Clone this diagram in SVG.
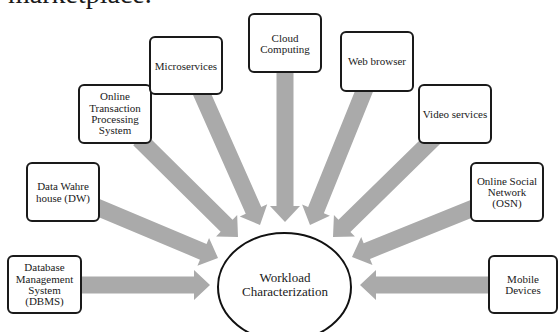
<svg xmlns="http://www.w3.org/2000/svg" width="559" height="332" viewBox="0 0 559 332">
<style>
.box{fill:#fff;stroke:#1a1a1a;stroke-width:2}
.arrow{fill:#aaaaaa;stroke:none}
text{font-family:"Liberation Serif","Times New Roman",serif;fill:#1a1a1a;text-anchor:middle}
.t{font-size:11px}
.c{font-size:13px}
</style>
<rect width="559" height="332" fill="#fff"/>
<text x="8" y="3" style="font-size:28px;text-anchor:start">marketplace.</text>
<g id="connectors">
<polygon class="arrow" transform="translate(210,285) rotate(0)" points="-134,-8.5 -16,-8.5 -16,-15 0,0 -16,15 -16,8.5 -134,8.5"/>
<polygon class="arrow" transform="translate(360,285) rotate(180)" points="-134,-8.5 -16,-8.5 -16,-15 0,0 -16,15 -16,8.5 -134,8.5"/>
<polygon class="arrow" transform="translate(285,222) rotate(90)" points="-155,-8.5 -16,-8.5 -16,-15 0,0 -16,15 -16,8.5 -155,8.5"/>
<polygon class="arrow" transform="translate(218,258) rotate(22.8)" points="-134,-8.5 -16,-8.5 -16,-15 0,0 -16,15 -16,8.5 -134,8.5"/>
<polygon class="arrow" transform="translate(238,237) rotate(44.7)" points="-139,-8.5 -16,-8.5 -16,-15 0,0 -16,15 -16,8.5 -139,8.5"/>
<polygon class="arrow" transform="translate(260,225) rotate(66.1)" points="-148,-8.5 -16,-8.5 -16,-15 0,0 -16,15 -16,8.5 -148,8.5"/>
<polygon class="arrow" transform="translate(310,225) rotate(112)" points="-150,-8.5 -16,-8.5 -16,-15 0,0 -16,15 -16,8.5 -150,8.5"/>
<polygon class="arrow" transform="translate(333,237) rotate(135.6)" points="-144,-8.5 -16,-8.5 -16,-15 0,0 -16,15 -16,8.5 -144,8.5"/>
<polygon class="arrow" transform="translate(352,257) rotate(158)" points="-134,-8.5 -16,-8.5 -16,-15 0,0 -16,15 -16,8.5 -134,8.5"/>
</g>
<g id="dbms">
<rect class="box" x="8" y="256" width="73" height="57" rx="5"/>
<text class="t" x="44.5" y="271">Database</text>
<text class="t" x="44.5" y="283">Management</text>
<text class="t" x="44.5" y="294">System</text>
<text class="t" x="44.5" y="305">(DBMS)</text>
</g>
<g id="dw">
<rect class="box" x="27" y="163" width="72" height="58" rx="5"/>
<text class="t" x="63" y="190">Data Wahre</text>
<text class="t" x="63" y="202">house (DW)</text>
</g>
<g id="oltp">
<rect class="box" x="79" y="85" width="72" height="58" rx="5"/>
<text class="t" x="115" y="100">Online</text>
<text class="t" x="115" y="112">Transaction</text>
<text class="t" x="115" y="123">Processing</text>
<text class="t" x="115" y="134">System</text>
</g>
<g id="microservices">
<rect class="box" x="150" y="37" width="72" height="57" rx="5"/>
<text class="t" x="186" y="70">Microservices</text>
</g>
<g id="cloud">
<rect class="box" x="249" y="14" width="72" height="58" rx="5"/>
<text class="t" x="285" y="42">Cloud</text>
<text class="t" x="285" y="53">Computing</text>
</g>
<g id="web">
<rect class="box" x="341" y="32" width="72" height="59" rx="5"/>
<text class="t" x="377" y="65">Web browser</text>
</g>
<g id="video">
<rect class="box" x="419" y="85" width="72" height="58" rx="5"/>
<text class="t" x="455" y="118">Video services</text>
</g>
<g id="osn">
<rect class="box" x="471" y="163" width="72" height="58" rx="5"/>
<text class="t" x="507" y="185">Online Social</text>
<text class="t" x="507" y="196">Network</text>
<text class="t" x="507" y="207">(OSN)</text>
</g>
<g id="mobile">
<rect class="box" x="489" y="256" width="68" height="57" rx="5"/>
<text class="t" x="523" y="283">Mobile</text>
<text class="t" x="523" y="294">Devices</text>
</g>
<g id="workload">
<ellipse cx="284.5" cy="287" rx="66.5" ry="54" fill="#fff" stroke="#111" stroke-width="2"/>
<text class="c" x="285" y="282">Workload</text>
<text class="c" x="285" y="296">Characterization</text>
</g>
</svg>
